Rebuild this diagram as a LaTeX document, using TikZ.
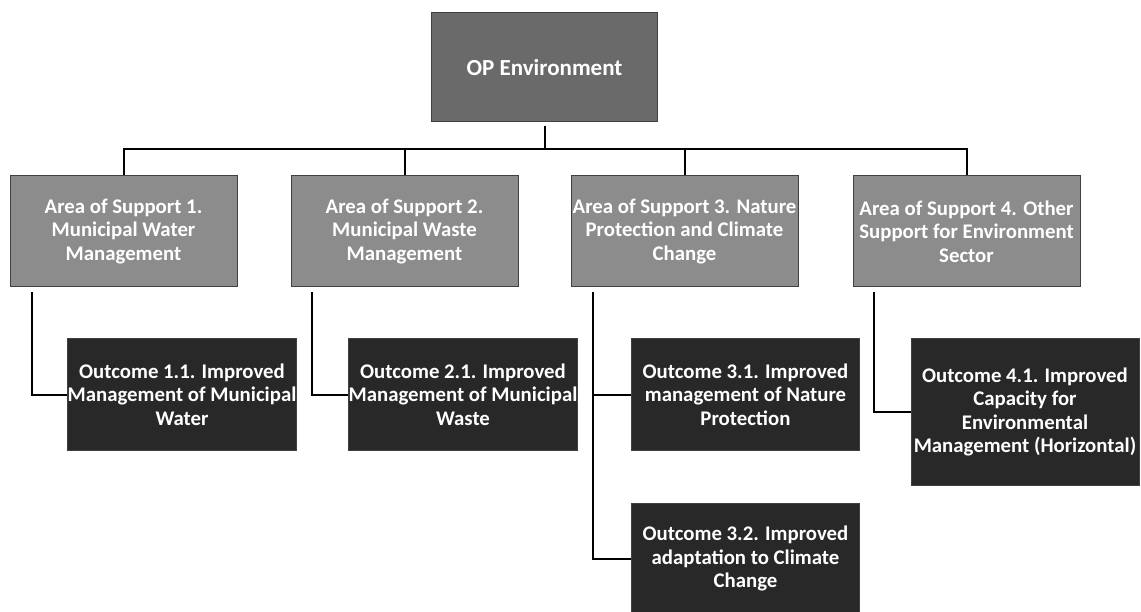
\documentclass[tikz,border=0pt]{standalone}
\usepackage{fontspec}
\setmainfont{Carlito}
\definecolor{topgray}{HTML}{6A6A6A}
\definecolor{areagray}{HTML}{8C8C8C}
\definecolor{outdark}{HTML}{282828}
\begin{document}
\begin{tikzpicture}[x=1pt,y=-1pt,
  box/.style={draw=black!75, line width=1pt, text=white, align=center, inner sep=0pt,
    font=\bfseries\fontsize{20.8}{23.5}\selectfont, minimum width=228pt, minimum height=111pt},
  topbox/.style={box, fill=topgray, minimum width=226pt, minimum height=109pt,
    font=\bfseries\fontsize{23}{26}\selectfont},
  areabox/.style={box, fill=areagray, minimum width=227pt},
  outbox/.style={box, fill=outdark},
  link/.style={draw=black, line width=2pt}]
\fill[white] (0,0) rectangle (1141,612);
\useasboundingbox (0,0) rectangle (1141,612);

\node[topbox] (top) at (544.5,67.5) {OP Environment};

\node[areabox] (a1) at (123.5,231.5) {Area of Support 1.\\Municipal Water\\Management};
\node[areabox] (a2) at (404.5,231.5) {Area of Support 2.\\Municipal Waste\\Management};
\node[areabox] (a3) at (684.5,231.5) {Area of Support 3. Nature\\Protection and Climate\\Change};
\node[areabox] (a4) at (966.5,231.5) {Area of Support 4. Other\\Support for Environment\\Sector};

\node[outbox] (o11) at (182,394.5) {Outcome 1.1. Improved\\Management of Municipal\\Water};
\node[outbox] (o21) at (463,394.5) {Outcome 2.1. Improved\\Management of Municipal\\Waste};
\node[outbox] (o31) at (745.5,394.5) {Outcome 3.1. Improved\\management of Nature\\Protection};
\node[outbox] (o32) at (745.5,558.5) {Outcome 3.2. Improved\\adaptation to Climate\\Change};
\node[outbox, minimum height=146pt] (o41) at (1025,412) {Outcome 4.1. Improved\\Capacity for\\Environmental\\Management (Horizontal)};

\coordinate (bus) at (544.5,149);
\draw[link, shorten <=4pt] (top.south) -- (bus);
\draw[link] (bus) -| (a1.north);
\draw[link] (bus) -| (a2.north);
\draw[link] (bus) -| (a3.north);
\draw[link] (bus) -| (a4.north);

\draw[link, shorten <=5pt] ([xshift=22pt]a1.south west) |- (o11.west);
\draw[link, shorten <=5pt] ([xshift=21pt]a2.south west) |- (o21.west);
\draw[link, shorten <=5pt] ([xshift=22pt]a3.south west) |- (o32.west);
\draw[link] ([xshift=22pt]a3.south west |- o31.west) -- (o31.west);
\draw[link, shorten <=5pt] ([xshift=21pt]a4.south west) |- (o41.west);
\end{tikzpicture}
\end{document}
